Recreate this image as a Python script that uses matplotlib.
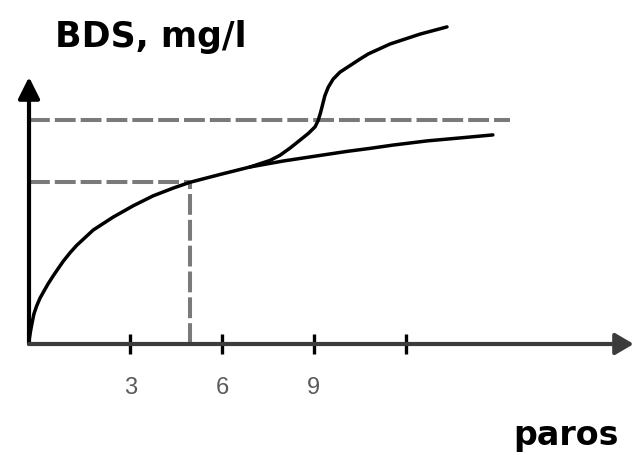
import matplotlib
matplotlib.use("Agg")
import matplotlib.pyplot as plt

plt.rcParams["lines.scale_dashes"] = False

# Number of steps (x) and BDS value (y, arbitrary units)
lower_x = [-0.31, -0.30, -0.26, -0.21, -0.15, -0.06, 0.05, 0.16, 0.31, 0.48,
           0.64, 0.81, 1.03, 1.25, 1.79, 2.44, 3.10, 3.75, 4.41, 4.95, 5.93,
           6.91, 8.00, 9.10, 10.08, 10.83, 11.58, 12.70, 13.79, 14.85]
lower_y = [0.00, 0.17, 0.43, 0.70, 1.00, 1.27, 1.53, 1.73, 2.00, 2.27,
           2.51, 2.76, 3.04, 3.29, 3.80, 4.23, 4.61, 4.94, 5.20, 5.39, 5.65,
           5.90, 6.10, 6.27, 6.42, 6.52, 6.63, 6.77, 6.87, 6.97]

upper_x = [6.91, 7.57, 7.89, 8.22, 8.54, 8.82, 9.04, 9.14, 9.22, 9.29, 9.36,
           9.47, 9.63, 9.85, 10.18, 10.51, 10.78, 11.49, 12.47, 13.35]
upper_y = [5.90, 6.12, 6.29, 6.53, 6.79, 7.02, 7.24, 7.45, 7.72, 8.00, 8.28,
           8.56, 8.83, 9.06, 9.28, 9.50, 9.67, 10.00, 10.33, 10.57]

tick_values = [3, 6, 9, 12]
tick_labels = ["3", "6", "9", ""]

ref_x = 4.95          # vertical reference step
ref_y_low = 5.39      # lower horizontal reference level
ref_y_high = 7.48     # upper horizontal reference level
dash_end_x = 15.41

x0 = -0.31            # position of the vertical axis
x_axis_end = 19.45
y_axis_end = 8.9

fig = plt.figure(figsize=(6.37, 4.56), dpi=100)
ax = fig.add_axes([0, 0, 1, 1])
ax.set_xlim(-1.258, 19.56)
ax.set_ylim(-3.7, 11.5)
ax.axis("off")

dash_style = dict(color="#7a7a7a", lw=2.9, dashes=(15, 3.6),
                  dash_capstyle="butt")
ax.plot([x0, ref_x], [ref_y_low, ref_y_low], **dash_style)
ax.plot([ref_x, ref_x], [0, ref_y_low], **dash_style)
ax.plot([x0, dash_end_x], [ref_y_high, ref_y_high], **dash_style)

# Axes with arrow heads
axis_color = "#3c3c3c"
ax.annotate("", xy=(x0, y_axis_end), xytext=(x0, 0),
            arrowprops=dict(arrowstyle="-|>,head_length=1.3,head_width=0.65",
                            color="black", lw=3.0, shrinkA=0, shrinkB=0))
ax.annotate("", xy=(x_axis_end, 0), xytext=(x0, 0),
            arrowprops=dict(arrowstyle="-|>,head_length=1.1,head_width=0.65",
                            color=axis_color, lw=3.0, shrinkA=0, shrinkB=0))

# Tick marks and labels
ax.plot(tick_values, [0] * len(tick_values), ls="none", marker="|",
        ms=14.5, mew=2.4, color="black")
for v, lab in zip(tick_values, tick_labels):
    ax.text(v, -1.43, lab, ha="center", va="center", fontsize=17,
            color="#5a5a5a", family="Liberation Sans")

# Curves
ax.plot(lower_x, lower_y, color="black", lw=2.5, solid_joinstyle="round",
        solid_capstyle="round")
ax.plot(upper_x, upper_y, color="black", lw=2.5, solid_joinstyle="round",
        solid_capstyle="round")

fig.text(55 / 637, 1 - 47 / 456, "BDS, mg/l", fontsize=25, fontweight="bold",
         family="DejaVu Sans", ha="left", va="baseline")
fig.text(513 / 637, 1 - 445 / 456, "paros", fontsize=24, fontweight="bold",
         family="DejaVu Sans", ha="left", va="baseline")

fig.savefig("out.png", dpi=100)
